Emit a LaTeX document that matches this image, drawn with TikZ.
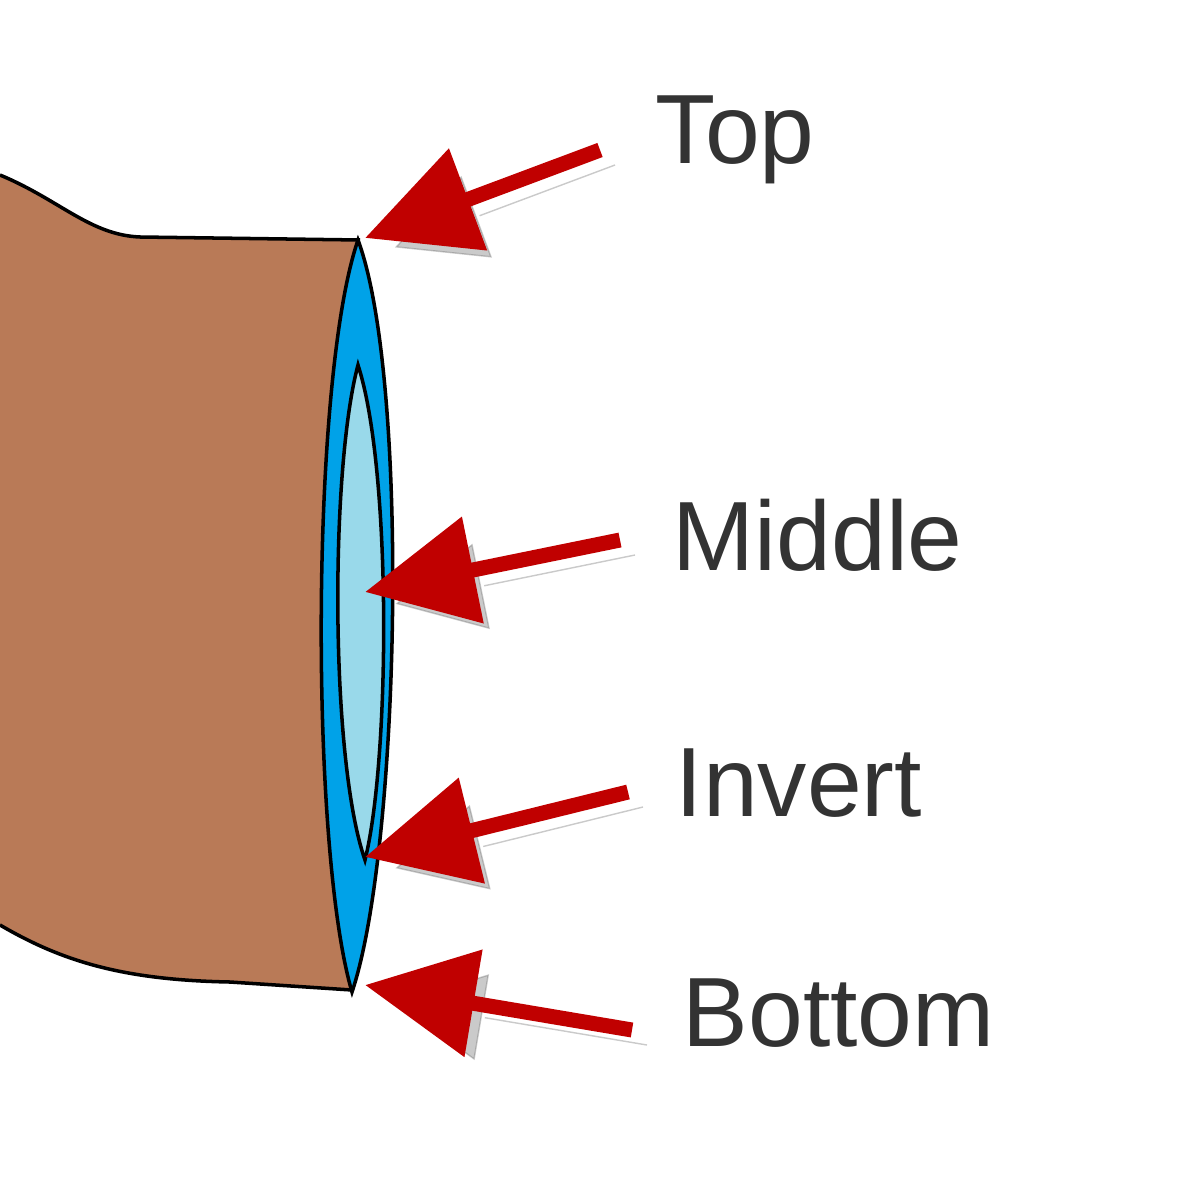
\documentclass[tikz,border=0pt]{standalone}
\usepackage{fontspec}
\setmainfont{Liberation Sans}
\usetikzlibrary{arrows.meta,positioning}
\definecolor{pipe}{HTML}{B97A57}
\definecolor{wall}{HTML}{00A2E8}
\definecolor{bore}{HTML}{99D9EA}
\definecolor{pointer}{HTML}{C00000}
\definecolor{dark}{HTML}{333333}
\tikzset{
    % Arrow pointing at the pipe end
    pointer arrow/.style={
        -{Triangle[length=1.1cm, width=1.05cm]},
        line width=0.15cm,
        color=pointer,
        preaction={draw=black!60, opacity=0.35, transform canvas={xshift=1.5mm, yshift=-1.5mm},
            -{Triangle[length=1.1cm, width=1.05cm]}}
    },
    % Label style
    part label/.style={
        font=\fontsize{28}{34}\selectfont,
        text=dark,
        anchor=west,
        inner sep=0pt
    }
}
\begin{document}
\begin{tikzpicture}[x=0.01cm, y=-0.01cm]
    \useasboundingbox (0,0) rectangle (1186,1200);
    % Pipe body
    \fill[pipe] (0,175) .. controls (60,200) and (90,235) .. (140,237) -- (360,240)
        -- (352,990) -- (230,982) .. controls (120,980) and (60,960) .. (0,925) -- cycle;
    \draw[line width=1pt] (0,175) .. controls (60,200) and (90,235) .. (140,237) -- (360,240);
    \draw[line width=1pt] (352,990) -- (230,982) .. controls (120,980) and (60,960) .. (0,925);
    % Pipe end: wall and bore
    \draw[fill=wall, line width=1pt] (358,240) .. controls (410,380) and (400,850) .. (352,992)
        .. controls (310,850) and (310,380) .. (358,240) -- cycle;
    \draw[fill=bore, line width=1pt] (358,365) .. controls (392,470) and (390,760) .. (365,860)
        .. controls (330,760) and (330,470) .. (358,365) -- cycle;
    % Arrow tips
    \coordinate (top) at (365,238);
    \coordinate (middle) at (365,592);
    \coordinate (invert) at (365,857);
    \coordinate (bottom) at (365,985);
    % Labels
    \node[part label] (toplbl) at (655,140) {Top};
    \node[part label] (middlelbl) at (672,535) {Middle};
    \node[part label] (invertlbl) at (675,783) {Invert};
    \node[part label] (bottomlbl) at (682,1013) {Bottom};
    % Arrows
    \draw[pointer arrow] (600,150) -- (top);
    \draw[pointer arrow] (620,540) -- (middle);
    \draw[pointer arrow] (628,792) -- (invert);
    \draw[pointer arrow] (632,1030) -- (bottom);
\end{tikzpicture}
\end{document}
